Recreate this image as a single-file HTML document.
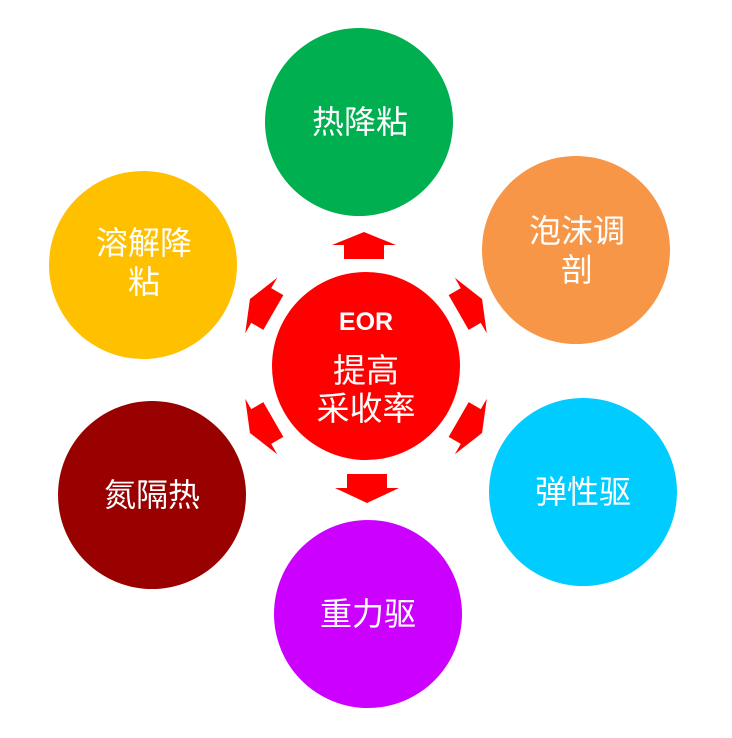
<!DOCTYPE html>
<html><head><meta charset="utf-8"><style>
html,body{margin:0;padding:0;background:#fff}
svg text{font-family:"Liberation Sans","Noto Sans CJK SC",sans-serif;fill:#fff;text-anchor:middle}
</style></head><body>
<svg width="732" height="733" viewBox="0 0 732 733" xmlns="http://www.w3.org/2000/svg">
<circle cx="359" cy="122" r="94" fill="#00b050"/>
<circle cx="576" cy="250" r="94" fill="#f79646"/>
<circle cx="583" cy="492" r="94" fill="#00ccff"/>
<circle cx="368" cy="614" r="94" fill="#cc00ff"/>
<circle cx="152" cy="495" r="94" fill="#990000"/>
<circle cx="143" cy="265" r="94" fill="#ffc000"/>
<circle cx="366" cy="366" r="94" fill="#ff0000"/>
<g fill="#ff0000">
<path d="M346 259 L346 245 L334 245 L366 232 L398 245 L386 245 L386 259 Z" transform="translate(-2,0)"/>
<path d="M346 259 L346 245 L334 245 L366 232 L398 245 L386 245 L386 259 Z" transform="rotate(60 366 366)"/>
<path d="M346 259 L346 245 L334 245 L366 232 L398 245 L386 245 L386 259 Z" transform="rotate(120 366 366)"/>
<path d="M346 259 L346 245 L334 245 L366 230 L398 245 L386 245 L386 259 Z" transform="rotate(180 366 366) translate(-1,-1)"/>
<path d="M346 259 L346 245 L334 245 L366 232 L398 245 L386 245 L386 259 Z" transform="rotate(240 366 366)"/>
<path d="M346 259 L346 245 L334 245 L366 232 L398 245 L386 245 L386 259 Z" transform="rotate(300 366 366)"/>
</g>
<text x="366" y="330" font-size="25" font-weight="bold">EOR</text>
<text x="366" y="382" font-size="33">提高</text>
<text x="366" y="420" font-size="33">采收率</text>
<text x="360" y="133" font-size="32">热降粘</text>
<text x="577" y="242" font-size="32">泡沫调</text>
<text x="577" y="281" font-size="32">剖</text>
<text x="583" y="503" font-size="32">弹性驱</text>
<text x="368" y="625" font-size="32">重力驱</text>
<text x="152" y="506" font-size="32">氮隔热</text>
<text x="144" y="254" font-size="32">溶解降</text>
<text x="144" y="293" font-size="32">粘</text>
</svg>
</body></html>
